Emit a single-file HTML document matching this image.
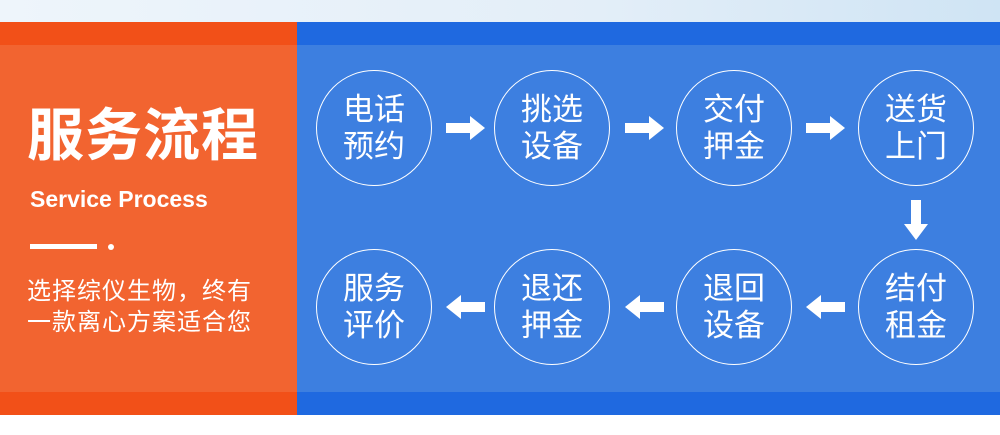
<!DOCTYPE html>
<html><head><meta charset="utf-8"><style>
body{margin:0;width:1000px;height:435px;overflow:hidden;background:#fff;font-family:"Liberation Sans","Noto Sans CJK SC",sans-serif;position:relative}
.a{position:absolute}
.c{position:absolute;width:116px;height:116px;border:1.5px solid #fff;border-radius:50%;color:#fff;font-size:31px;line-height:37px;display:flex;align-items:center;justify-content:center;text-align:center;box-sizing:border-box}
</style></head><body>
<div class="a" style="left:0;top:0;width:1000px;height:22px;background:linear-gradient(90deg,#eef5fb,#e3eef8 60%,#cfe4f4)"></div>
<div class="a" style="left:0;top:22px;width:297px;height:23px;background:#f25018"></div>
<div class="a" style="left:0;top:45px;width:297px;height:347px;background:#f26430"></div>
<div class="a" style="left:0;top:392px;width:297px;height:23px;background:#f25018"></div>
<div class="a" style="left:297px;top:22px;width:703px;height:23px;background:#1f69e0"></div>
<div class="a" style="left:297px;top:45px;width:703px;height:347px;background:#3d7fe0"></div>
<div class="a" style="left:297px;top:392px;width:703px;height:23px;background:#1f69e0"></div>
<div class="a" style="left:27px;top:101px;color:#fff;font-size:57px;font-weight:bold;line-height:70px;letter-spacing:1px">服务流程</div>
<div class="a" style="left:30px;top:184px;color:#fff;font-size:23px;font-weight:bold;line-height:30px">Service Process</div>
<div class="a" style="left:30px;top:244px;width:67px;height:5px;background:#fff"></div>
<div class="a" style="left:108px;top:244px;width:6px;height:6px;border-radius:50%;background:#fff"></div>
<div class="a" style="left:27px;top:276px;color:#fff;font-size:24px;line-height:31px;letter-spacing:1px">选择综仪生物，终有<br>一款离心方案适合您</div>
<div class="c" style="left:316px;top:70px">电话<br>预约</div>
<div class="c" style="left:494px;top:70px">挑选<br>设备</div>
<div class="c" style="left:676px;top:70px">交付<br>押金</div>
<div class="c" style="left:858px;top:70px">送货<br>上门</div>
<div class="c" style="left:316px;top:249px">服务<br>评价</div>
<div class="c" style="left:494px;top:249px">退还<br>押金</div>
<div class="c" style="left:676px;top:249px">退回<br>设备</div>
<div class="c" style="left:858px;top:249px">结付<br>租金</div>
<svg class="a" style="left:0;top:0" width="1000" height="435">
<g fill="#fff">
<polygon points="446,123 470,123 470,116 485,128 470,140 470,133 446,133"/>
<polygon points="625,123 649,123 649,116 664,128 649,140 649,133 625,133"/>
<polygon points="806,123 830,123 830,116 845,128 830,140 830,133 806,133"/>
<polygon points="911,200 921,200 921,224 928,224 916,240 904,224 911,224"/>
<polygon points="485,302 461,302 461,295 446,307 461,319 461,312 485,312"/>
<polygon points="664,302 640,302 640,295 625,307 640,319 640,312 664,312"/>
<polygon points="845,302 821,302 821,295 806,307 821,319 821,312 845,312"/>
</g></svg>
</body></html>
